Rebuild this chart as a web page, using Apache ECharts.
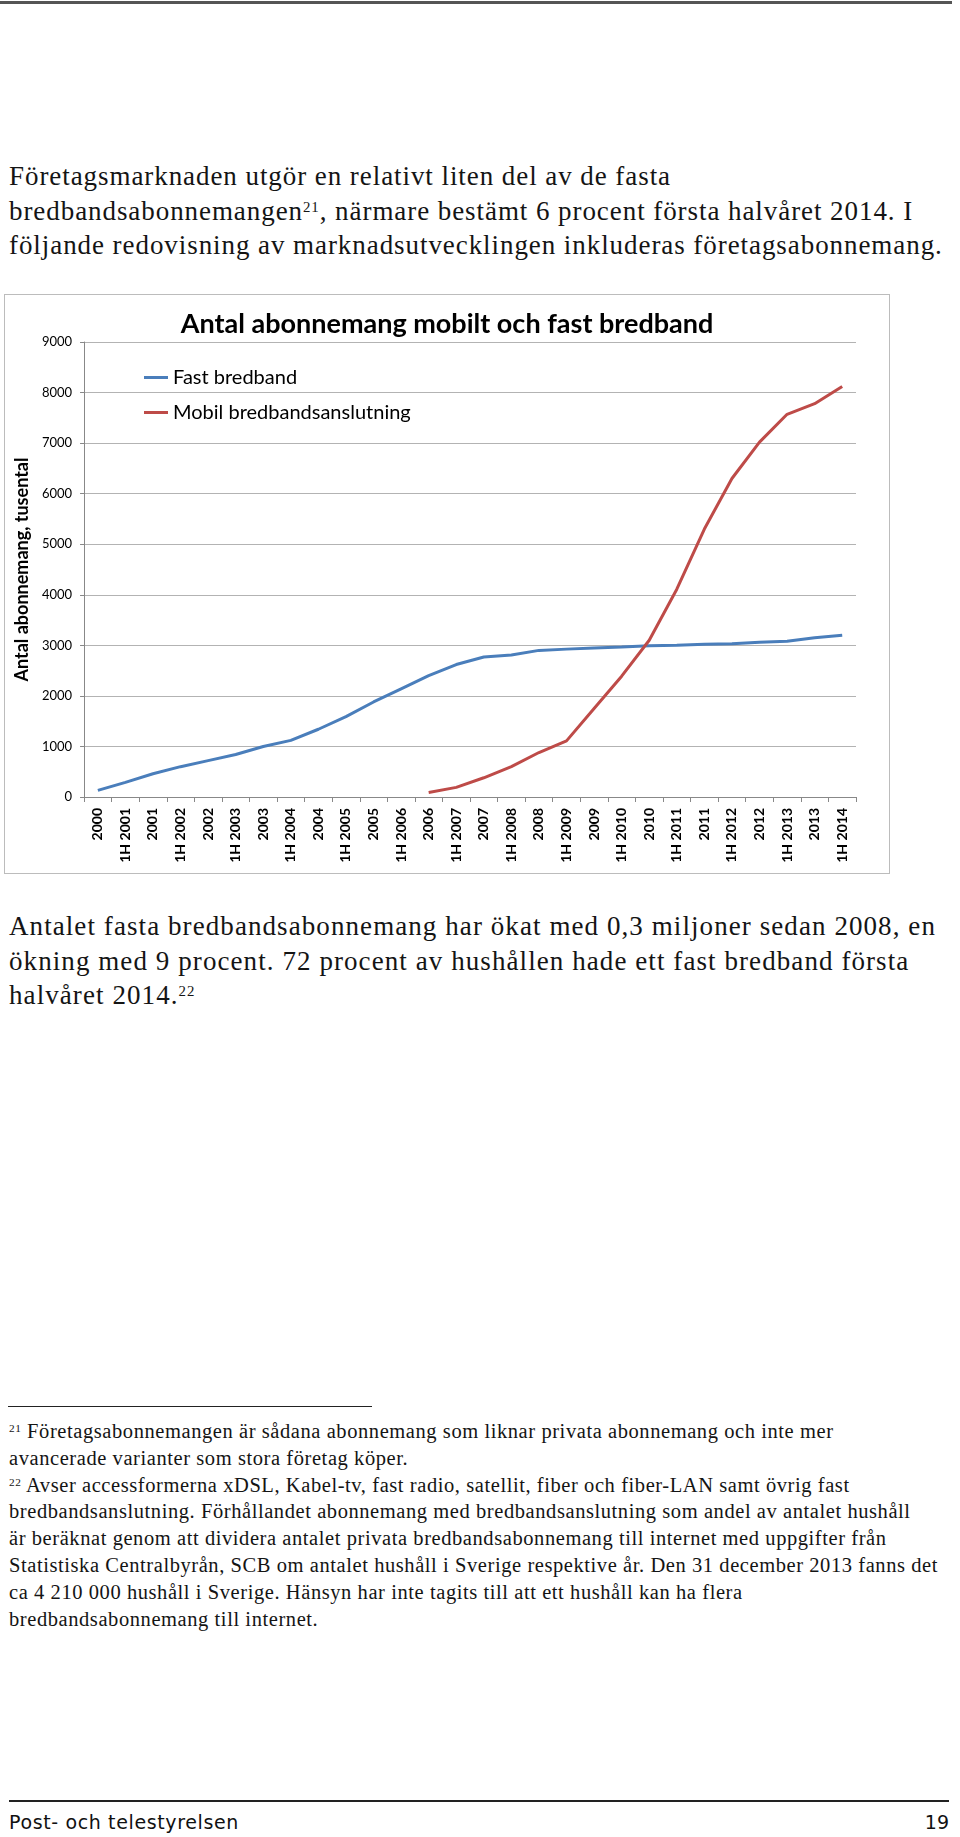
<!DOCTYPE html>
<html><head><meta charset="utf-8">
<script src="https://cdn.jsdelivr.net/npm/echarts@6/dist/echarts.min.js"></script>
<style>
html,body{margin:0;padding:0;background:#fff;}
#page{position:relative;width:960px;height:1837px;overflow:hidden;background:#fff;}
.ln{position:absolute;left:9px;white-space:nowrap;font-family:"Liberation Serif",serif;color:#141414;line-height:1;}
.p1{font-size:27px;}
.fn{font-size:20.5px;}
.ln sup{font-size:0.55em;vertical-align:0.55em;line-height:0;}
.rule{position:absolute;background:#222;}
#chartbox{position:absolute;left:4px;top:294px;width:886px;height:580px;box-sizing:border-box;border:1px solid #bcbcbc;}
#chart{width:884px;height:578px;}
.foot{position:absolute;font-family:"DejaVu Sans",sans-serif;font-size:19px;color:#111;line-height:1;white-space:nowrap;}
</style>
</head><body>
<div id="page">
  <div class="rule" style="left:0;top:1px;width:952px;height:3px;background:#555;"></div>

  <div class="ln p1" data-grp="a" data-ref="1" style="top:163px">Företagsmarknaden utgör en relativt liten del av de fasta</div>
  <div class="ln p1" data-grp="a" style="top:197.5px">bredbandsabonnemangen<sup>21</sup>, närmare bestämt 6 procent första halvåret 2014. I</div>
  <div class="ln p1" data-grp="a" style="top:232px">följande redovisning av marknadsutvecklingen inkluderas företagsabonnemang.</div>

  <div id="chartbox"><div id="chart"></div></div>

  <div class="ln p1" data-grp="b" data-ref="1" style="top:912.5px">Antalet fasta bredbandsabonnemang har ökat med 0,3 miljoner sedan 2008, en</div>
  <div class="ln p1" data-grp="b" style="top:947.5px">ökning med 9 procent. 72 procent av hushållen hade ett fast bredband första</div>
  <div class="ln p1" data-grp="b" style="top:982px">halvåret 2014.<sup>22</sup></div>

  <div class="rule" style="left:8px;top:1405.5px;width:364px;height:1.5px;"></div>

  <div class="ln fn" data-grp="c" style="top:1421px"><sup>21</sup> Företagsabonnemangen är sådana abonnemang som liknar privata abonnemang och inte mer</div>
  <div class="ln fn" data-grp="c" style="top:1447.8px">avancerade varianter som stora företag köper.</div>
  <div class="ln fn" data-grp="c" style="top:1474.6px"><sup>22</sup> Avser accessformerna xDSL, Kabel-tv, fast radio, satellit, fiber och fiber-LAN samt övrig fast</div>
  <div class="ln fn" data-grp="c" style="top:1501.4px">bredbandsanslutning. Förhållandet abonnemang med bredbandsanslutning som andel av antalet hushåll</div>
  <div class="ln fn" data-grp="c" style="top:1528.2px">är beräknat genom att dividera antalet privata bredbandsabonnemang till internet med uppgifter från</div>
  <div class="ln fn" data-grp="c" data-ref="1" style="top:1555px">Statistiska Centralbyrån, SCB om antalet hushåll i Sverige respektive år. Den 31 december 2013 fanns det</div>
  <div class="ln fn" data-grp="c" style="top:1581.8px">ca 4 210 000 hushåll i Sverige. Hänsyn har inte tagits till att ett hushåll kan ha flera</div>
  <div class="ln fn" data-grp="c" style="top:1608.6px">bredbandsabonnemang till internet.</div>

  <div class="rule" style="left:9px;top:1800px;width:940px;height:1.5px;"></div>
  <div class="foot" id="footL" style="left:9px;top:1813px;">Post- och telestyrelsen</div>
  <div class="foot" style="right:11px;top:1813px;">19</div>
</div>
<script>
// ---- data ----
var categories = ['2000','1H 2001','2001','1H 2002','2002','1H 2003','2003','1H 2004','2004','1H 2005','2005','1H 2006','2006','1H 2007','2007','1H 2008','2008','1H 2009','2009','1H 2010','2010','1H 2011','2011','1H 2012','2012','1H 2013','2013','1H 2014'];
var fastBredband = [130,290,460,600,720,840,1000,1120,1340,1590,1880,2140,2400,2620,2770,2810,2900,2925,2945,2965,2990,3000,3020,3030,3060,3080,3150,3200];
var mobilBredband = [null,null,null,null,null,null,null,null,null,null,null,null,90,190,380,600,880,1110,1750,2390,3100,4110,5300,6300,7020,7570,7780,8120];
var yTicks = {min:0, max:9000, interval:1000};
var seriesNames = ['Fast bredband','Mobil bredbandsanslutning'];

// ---- fit text line widths per group ----
var targets = {a:662, b:927, c:929};
Object.keys(targets).forEach(function(g){
  var ref = document.querySelector('.ln[data-grp="'+g+'"][data-ref="1"]');
  var w = ref.getBoundingClientRect().width;
  var n = ref.textContent.length;
  var ls = (targets[g]-w)/n;
  document.querySelectorAll('.ln[data-grp="'+g+'"]').forEach(function(el){el.style.letterSpacing=ls+'px';});
});
(function(){
  var el=document.getElementById('footL');
  var w=el.getBoundingClientRect().width, n=el.textContent.length;
  el.style.letterSpacing=((230-w)/n)+'px';
})();

// ---- chart ----
var font = 'Lato, "Noto Sans", sans-serif';
var chart = echarts.init(document.getElementById('chart'), null, {renderer:'canvas'});
chart.setOption({
  animation:false,
  backgroundColor:'#fff',
  title:{
    text:'Antal abonnemang mobilt och fast bredband',
    left:'center', top:8,
    textStyle:{fontFamily:font, fontWeight:'bold', fontSize:27, color:'#000', lineHeight:32}
  },
  legend:{
    orient:'vertical', left:134, top:67.5,
    itemWidth:24, itemHeight:3, itemGap:15, icon:'rect',
    textStyle:{fontFamily:font, fontSize:20, color:'#000', lineHeight:20},
    data:seriesNames
  },
  grid:{left:76, top:47, width:775, height:455},
  xAxis:{
    type:'category', data:categories, boundaryGap:true,
    axisLine:{lineStyle:{color:'#888', width:1}},
    axisTick:{show:true, length:5, interval:0, alignWithLabel:false, lineStyle:{color:'#888'}},
    axisLabel:{interval:0, rotate:90, margin:11, fontFamily:font, fontWeight:'bold', fontSize:14, color:'#000'},
    splitLine:{show:false}
  },
  yAxis:{
    type:'value', min:yTicks.min, max:yTicks.max, interval:yTicks.interval,
    name:'Antal abonnemang, tusental', nameLocation:'middle', nameRotate:90, nameGap:43,
    nameTextStyle:{fontFamily:font, fontWeight:'bold', fontSize:18, color:'#000'},
    axisLine:{show:true, lineStyle:{color:'#888', width:1}},
    axisTick:{show:true, length:4, lineStyle:{color:'#888'}},
    axisLabel:{margin:12, fontFamily:font, fontSize:13, color:'#000', formatter:function(v){return String(v);}},
    splitLine:{show:true, lineStyle:{color:'#b3b3b3', width:1}}
  },
  series:[
    {name:seriesNames[0], type:'line', data:fastBredband, symbol:'none', lineStyle:{color:'#4a7ebb', width:3}, itemStyle:{color:'#4a7ebb'}},
    {name:seriesNames[1], type:'line', data:mobilBredband, symbol:'none', connectNulls:false, lineStyle:{color:'#be4b48', width:3}, itemStyle:{color:'#be4b48'}}
  ]
});
</script>
</body></html>
